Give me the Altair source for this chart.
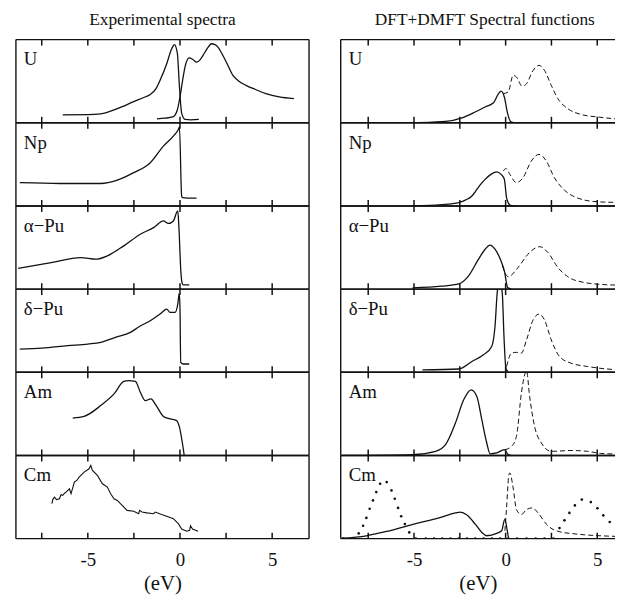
import altair as alt
import pandas as pd

FONT = "Liberation Serif, Times New Roman, serif"
INK = "#111111"

# ---------------- layout constants ----------------
PANEL_H = 84
LEFT_W = 296
RIGHT_W = 277
TICK_FRAC = 6 / 84

LEFT_DOMAIN = [-8.9, 7.0]
RIGHT_DOMAIN = [-9.0, 5.97]

TICKS = [-7.5, -5, -2.5, 0, 2.5, 5]
LABELED_TICKS = [-5, 0, 5]

NAMES = ["U", "Np", "\u03b1\u2212Pu", "\u03b4\u2212Pu", "Am", "Cm"]
TITLES = ["Experimental spectra", "DFT+DMFT Spectral functions"]
X_TITLE = "(eV)"

# ---------------- experimental spectra ----------------
EXP_U_PES_X = [-6.36, -5.0, -4.3, -3.4, -2.51, -1.9, -1.61, -1.3, -1.08, -0.72, -0.45, -0.3, -0.14, -0.04, 0.09, 0.27, 0.6, 1.02]
EXP_U_PES_Y = [0.095, 0.097, 0.107, 0.17, 0.254, 0.31, 0.34, 0.41, 0.51, 0.71, 0.89, 0.94, 0.83, 0.47, 0.115, 0.04, 0.035, 0.04]

EXP_U_BIS_X = [-1.25, -0.8, -0.36, -0.15, 0.0, 0.15, 0.27, 0.5, 0.7, 0.9, 1.1, 1.25, 1.5, 1.7, 1.9, 2.06, 2.3, 2.51, 2.87, 3.2, 3.58, 4.1, 4.66, 5.38, 6.18]
EXP_U_BIS_Y = [0.048, 0.055, 0.075, 0.15, 0.31, 0.52, 0.67, 0.78, 0.76, 0.73, 0.76, 0.81, 0.9, 0.95, 0.94, 0.91, 0.82, 0.73, 0.57, 0.5, 0.45, 0.4, 0.35, 0.31, 0.29]

EXP_NP_X = [-8.69, -6.5, -4.3, -3.4, -2.51, -1.61, -0.9, -0.36, -0.09, -0.03, 0.09, 0.14, 0.4, 0.9]
EXP_NP_Y = [0.28, 0.27, 0.27, 0.31, 0.40, 0.52, 0.72, 0.84, 0.92, 0.95, 0.12, 0.10, 0.095, 0.095]

EXP_APU_X = [-8.78, -6.99, -5.38, -4.57, -3.94, -3.05, -2.15, -1.43, -0.9, -0.63, -0.36, -0.12, -0.06, 0.05, 0.12, 0.18, 0.5]
EXP_APU_Y = [0.25, 0.32, 0.38, 0.36, 0.40, 0.52, 0.66, 0.74, 0.82, 0.79, 0.82, 0.94, 0.75, 0.20, 0.07, 0.05, 0.05]

EXP_DPU_X = [-8.69, -7.5, -6.09, -5.0, -4.3, -3.5, -2.69, -2.2, -1.61, -1.08, -0.72, -0.54, -0.27, -0.12, -0.04, 0.0, 0.04, 0.18, 0.5]
EXP_DPU_Y = [0.28, 0.29, 0.32, 0.34, 0.36, 0.42, 0.48, 0.55, 0.62, 0.70, 0.76, 0.72, 0.72, 0.82, 0.95, 0.76, 0.12, 0.10, 0.10]

EXP_AM_X = [-5.82, -5.2, -4.3, -3.58, -3.05, -2.78, -2.42, -2.15, -1.88, -1.58, -1.29, -0.9, -0.54, -0.18, -0.04, 0.23]
EXP_AM_Y = [0.45, 0.47, 0.60, 0.74, 0.89, 0.90, 0.89, 0.76, 0.66, 0.68, 0.60, 0.47, 0.44, 0.42, 0.35, 0.0]

EXP_CM_X = [-6.95, -6.9, -6.81, -6.7, -6.54, -6.45, -6.36, -6.25, -6.18, -6.0, -5.91, -5.73, -5.6, -5.47, -5.2,
            -4.93, -4.84, -4.75, -4.48, -4.21, -3.94, -3.76, -3.58, -3.4, -3.23, -2.87, -2.51, -2.24, -2.19, -2.06,
            -1.8, -1.43, -1.34, -1.0, -0.72, -0.36, -0.09, 0.09, 0.36, 0.52, 0.57, 0.68, 0.98]
EXP_CM_Y = [0.42, 0.47, 0.50, 0.47, 0.48, 0.53, 0.52, 0.55, 0.56, 0.60, 0.54, 0.68, 0.70, 0.74, 0.80,
            0.84, 0.88, 0.82, 0.76, 0.66, 0.62, 0.54, 0.48, 0.46, 0.42, 0.34, 0.33, 0.30, 0.34, 0.32,
            0.31, 0.30, 0.32, 0.29, 0.27, 0.24, 0.18, 0.115, 0.09, 0.10, 0.155, 0.115, 0.09]

# ---------------- DFT+DMFT spectral functions ----------------
TH_U_OCC_X = [-5.1, -4.0, -3.28, -2.38, -1.66, -1.12, -0.66, -0.39, -0.25, -0.07, 0.11, 0.29, 0.5]
TH_U_OCC_Y = [0.0, 0.008, 0.016, 0.06, 0.13, 0.19, 0.24, 0.35, 0.38, 0.31, 0.11, 0.01, 0.0]
TH_U_UNO_X = [-0.13, 0.14, 0.41, 0.59, 0.9, 1.14, 1.5, 1.82, 2.12, 2.49, 2.85, 3.39, 4.11, 5.01, 6.54, 7.2]
TH_U_UNO_Y = [0.35, 0.37, 0.57, 0.55, 0.44, 0.47, 0.63, 0.69, 0.63, 0.45, 0.29, 0.17, 0.10, 0.07, 0.04, 0.035]

TH_NP_OCC_X = [-5.08, -3.5, -2.56, -2.2, -1.84, -1.66, -1.4, -1.12, -0.8, -0.49, -0.25, -0.07, 0.05, 0.14, 0.23, 0.5]
TH_NP_OCC_Y = [0.0, 0.015, 0.04, 0.07, 0.12, 0.17, 0.25, 0.32, 0.38, 0.41, 0.38, 0.32, 0.10, 0.04, 0.01, 0.0]
TH_NP_UNO_X = [-0.13, 0.02, 0.23, 0.59, 0.95, 1.4, 1.82, 2.22, 2.66, 3.21, 3.93, 5.01, 6.54, 7.2]
TH_NP_UNO_Y = [0.42, 0.45, 0.38, 0.28, 0.34, 0.54, 0.62, 0.54, 0.34, 0.19, 0.095, 0.05, 0.04, 0.035]

TH_APU_OCC_X = [-5.08, -3.5, -2.56, -2.02, -1.48, -1.12, -0.85, -0.58, -0.22, -0.07, 0.11, 0.3]
TH_APU_OCC_Y = [0.015, 0.035, 0.063, 0.16, 0.36, 0.48, 0.53, 0.48, 0.32, 0.22, 0.02, 0.0]
TH_APU_UNO_X = [-0.18, 0.14, 0.68, 1.22, 1.86, 2.31, 2.85, 3.39, 4.29, 5.01, 6.54, 7.2]
TH_APU_UNO_Y = [0.28, 0.15, 0.26, 0.42, 0.51, 0.44, 0.26, 0.15, 0.08, 0.06, 0.045, 0.04]

TH_DPU_OCC_X = [-4.54, -2.56, -1.84, -1.21, -0.76, -0.58, -0.45, -0.31, -0.18, -0.09, 0.02, 0.14]
TH_DPU_OCC_Y = [0.03, 0.04, 0.13, 0.21, 0.31, 0.55, 0.98, 1.1, 0.94, 0.43, 0.04, 0.01]
TH_DPU_UNO_X = [0.05, 0.32, 0.59, 0.86, 1.14, 1.5, 1.82, 2.12, 2.49, 2.94, 3.57, 4.47, 6.54, 7.2]
TH_DPU_UNO_Y = [0.07, 0.23, 0.24, 0.23, 0.39, 0.63, 0.70, 0.63, 0.39, 0.19, 0.11, 0.07, 0.03, 0.03]

TH_AM_OCC_X = [-8.9, -5.08, -3.82, -3.28, -2.74, -2.29, -1.88, -1.57, -1.3, -1.03, -0.85, -0.49, -0.07, 0.14, 0.3]
TH_AM_OCC_Y = [0.0, 0.01, 0.05, 0.13, 0.39, 0.67, 0.79, 0.71, 0.43, 0.15, 0.02, 0.03, 0.07, 0.01, 0.0]
TH_AM_UNO_X = [-0.04, 0.32, 0.59, 0.86, 1.04, 1.14, 1.31, 1.58, 1.95, 2.49, 3.57, 4.47, 5.19, 6.54, 7.2]
TH_AM_UNO_Y = [0.07, 0.11, 0.23, 0.75, 0.97, 1.02, 0.71, 0.35, 0.15, 0.05, 0.06, 0.05, 0.025, 0.015, 0.01]

TH_CM_OCC_X = [-8.95, -7.6, -6.34, -4.9, -3.64, -2.74, -2.47, -2.11, -1.66, -1.3, -1.03, -0.49, -0.22, -0.04, 0.09, 0.18, 0.4]
TH_CM_OCC_Y = [0.005, 0.035, 0.095, 0.18, 0.25, 0.31, 0.32, 0.285, 0.175, 0.075, 0.035, 0.063, 0.095, 0.235, 0.095, 0.0, 0.0]
TH_CM_UNO_X = [-0.04, 0.05, 0.18, 0.23, 0.41, 0.59, 0.86, 1.14, 1.46, 1.77, 2.22, 2.76, 3.84, 6.54, 7.2]
TH_CM_UNO_Y = [0.095, 0.37, 0.77, 0.79, 0.61, 0.35, 0.29, 0.35, 0.37, 0.31, 0.175, 0.095, 0.056, 0.024, 0.02]
TH_CM_F_X = [-8.86, -8.41, -8.02, -7.78, -7.6, -7.42, -7.24, -7.06, -6.85, -6.49, -6.23, -6.05, -5.87, -5.7, -5.5, -5.26,
             -4.9, -4.36, -3.91, -3.46, -3.01, -2.56, -2.11, -1.66, -1.2, -0.75, -0.3, 0.14, 0.63, 1.14, 1.64, 2.12, 2.61,
             2.94, 3.21, 3.48, 3.78, 4.16, 4.65, 5.01, 5.33, 5.68]
TH_CM_F_Y = [0.0, 0.0, 0.063, 0.155, 0.25, 0.36, 0.46, 0.56, 0.66, 0.68, 0.58, 0.48, 0.37, 0.27, 0.175, 0.075,
             0.0, 0.0, 0.0, 0.0, 0.0, 0.0, 0.0, 0.0, 0.0, 0.0, 0.0, 0.0, 0.0, 0.0, 0.0, 0.0, 0.0,
             0.127, 0.22, 0.31, 0.40, 0.47, 0.44, 0.365, 0.28, 0.20]

LEFT_CURVES = [
    [(EXP_U_PES_X, EXP_U_PES_Y, "solid"), (EXP_U_BIS_X, EXP_U_BIS_Y, "solid")],
    [(EXP_NP_X, EXP_NP_Y, "solid")],
    [(EXP_APU_X, EXP_APU_Y, "solid")],
    [(EXP_DPU_X, EXP_DPU_Y, "solid")],
    [(EXP_AM_X, EXP_AM_Y, "solid")],
    [(EXP_CM_X, EXP_CM_Y, "noisy")],
]
RIGHT_CURVES = [
    [(TH_U_UNO_X, TH_U_UNO_Y, "dashed"), (TH_U_OCC_X, TH_U_OCC_Y, "solid")],
    [(TH_NP_UNO_X, TH_NP_UNO_Y, "dashed"), (TH_NP_OCC_X, TH_NP_OCC_Y, "solid")],
    [(TH_APU_UNO_X, TH_APU_UNO_Y, "dashed"), (TH_APU_OCC_X, TH_APU_OCC_Y, "solid")],
    [(TH_DPU_UNO_X, TH_DPU_UNO_Y, "dashed"), (TH_DPU_OCC_X, TH_DPU_OCC_Y, "solid")],
    [(TH_AM_UNO_X, TH_AM_UNO_Y, "dashed"), (TH_AM_OCC_X, TH_AM_OCC_Y, "solid")],
    [(TH_CM_F_X, TH_CM_F_Y, "dotted"), (TH_CM_UNO_X, TH_CM_UNO_Y, "dashed"), (TH_CM_OCC_X, TH_CM_OCC_Y, "solid")],
]


def bottom_axis():
    return alt.Axis(
        values=LABELED_TICKS, ticks=False, domain=False, grid=False,
        labelFont=FONT, labelFontSize=19, labelColor=INK, labelPadding=12, labelFlush=False,
        labelExpr="datum.value < 0 ? '-' + abs(datum.value) : '' + datum.value",
        title=X_TITLE, titleFont=FONT, titleFontSize=21, titleFontWeight="normal",
        titleColor=INK, titlePadding=3,
    )


def seg(df, xscale, yscale, xaxis, x0, y0, x1=None, y1=None, width=1.4):
    """A straight segment placed through the panel's own scales."""
    enc = dict(x=alt.XDatum(x0, scale=xscale, axis=xaxis),
               y=alt.YDatum(y0, scale=yscale, axis=None))
    if x1 is not None:
        enc["x2"] = alt.datum(x1)
    if y1 is not None:
        enc["y2"] = alt.datum(y1)
    return alt.Chart(df).mark_rule(color=INK, strokeWidth=width).encode(**enc)


def make_panel(name, curves, domain, width, bottom, right_border, title=None, title_dx=0):
    xscale = alt.Scale(domain=domain, nice=False, zero=False)
    yscale = alt.Scale(domain=[0, 1], nice=False, zero=False)
    xaxis = bottom_axis() if bottom else None
    layers = []
    for xs, ys, style in curves:
        base = alt.Chart(pd.DataFrame({"e": xs, "v": ys}))
        if style == "solid":
            m = base.mark_line(color=INK, strokeWidth=1.3, interpolate="monotone", clip=True)
        elif style == "noisy":
            m = base.mark_line(color=INK, strokeWidth=1.1, clip=True)
        elif style == "dashed":
            m = base.mark_line(color=INK, strokeWidth=1.0, strokeDash=[5, 3],
                               interpolate="monotone", clip=True)
        else:
            m = base.mark_circle(color=INK, size=7, opacity=1, clip=True)
        layers.append(m.encode(
            x=alt.X("e:Q", scale=xscale, axis=xaxis),
            y=alt.Y("v:Q", scale=yscale, axis=None),
        ))
    one = pd.DataFrame({"k": [0]})
    # inward ticks from the top and the bottom frame
    for t in TICKS:
        layers.append(seg(one, xscale, yscale, xaxis, t, 1.0, y1=1.0 - TICK_FRAC, width=1.5))
        layers.append(seg(one, xscale, yscale, xaxis, t, 0.0, y1=TICK_FRAC, width=1.5))
    # frame
    for yv in (0.0, 1.0):
        layers.append(seg(one, xscale, yscale, xaxis, domain[0], yv, x1=domain[1]))
    xs_border = [domain[0], domain[1]] if right_border else [domain[0]]
    for xv in xs_border:
        layers.append(seg(one, xscale, yscale, xaxis, xv, 0.0, y1=1.0))
    layers.append(alt.Chart(pd.DataFrame({"name": [name]})).mark_text(
        font=FONT, fontSize=19, color=INK, align="left", baseline="alphabetic").encode(
        x=alt.value(8), y=alt.value(26), text="name:N"))
    props = dict(width=width, height=PANEL_H)
    if title:
        props["title"] = alt.TitleParams(title, font=FONT, fontSize=17.5, fontWeight="normal",
                                         color=INK, anchor="middle", offset=10, dx=title_dx)
    return alt.layer(*layers).properties(**props)


left_panels = [
    make_panel(NAMES[i], LEFT_CURVES[i], LEFT_DOMAIN, LEFT_W, i == 5, True,
               title=TITLES[0] if i == 0 else None)
    for i in range(6)
]
right_panels = [
    make_panel(NAMES[i], RIGHT_CURVES[i], RIGHT_DOMAIN, RIGHT_W, i == 5, False,
               title=TITLES[1] if i == 0 else None, title_dx=7)
    for i in range(6)
]

left = alt.vconcat(*left_panels, spacing=0, bounds="flush")
right = alt.vconcat(*right_panels, spacing=0, bounds="flush")

chart = alt.hconcat(left, right, spacing=28).properties(
    padding={"left": 6, "top": 0, "right": 0, "bottom": 0}
).configure_view(stroke="transparent")

chart.save("out.html", embed_options={"renderer": "svg", "actions": False})
